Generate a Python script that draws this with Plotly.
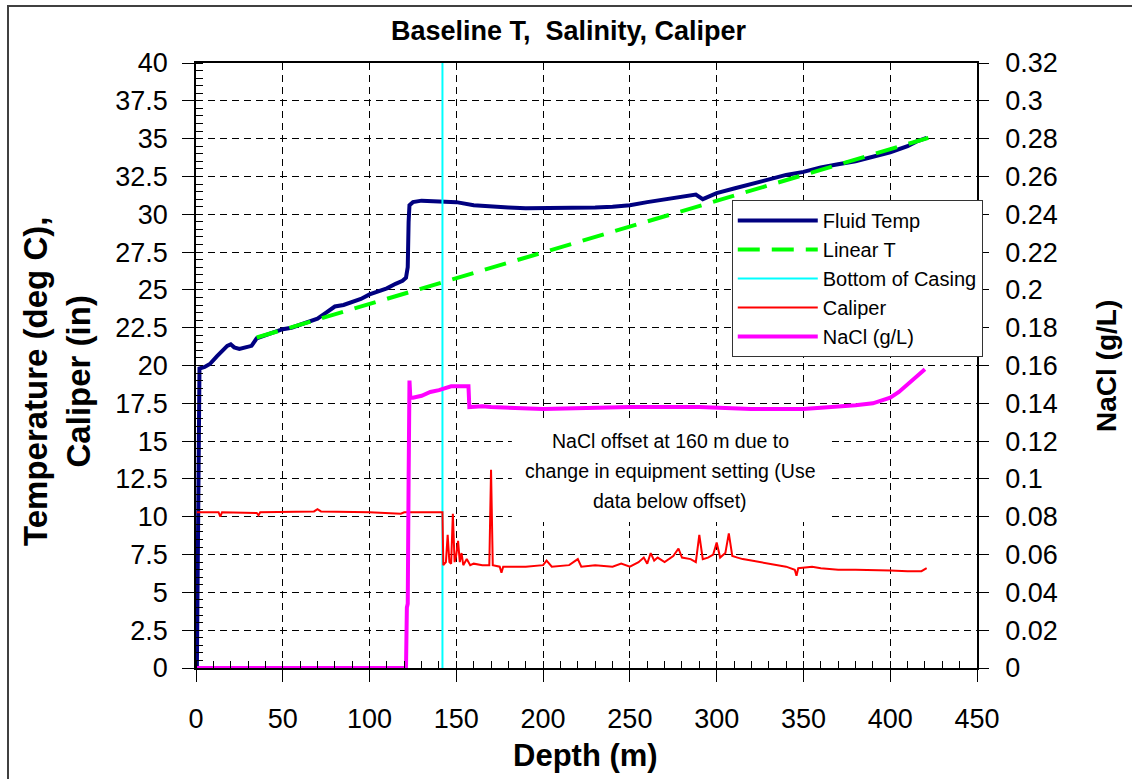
import plotly.graph_objects as go

# ---------------- data ----------------
temp_depth = [0.5, 1.5, 2, 5, 8, 12, 15, 18, 20, 22, 25, 28, 32, 35, 40, 45, 50, 55, 60, 65, 70,
              75, 80, 85, 90, 95, 100, 105, 110, 115, 119, 121, 122, 122.5, 123, 125, 130, 140,
              150, 160, 170, 180, 190, 200, 210, 220, 230, 240, 250, 260, 270, 280, 288, 292,
              296, 300, 310, 320, 330, 340, 350, 360, 370, 380, 390, 400, 410, 415, 421]
temp_vals = [0, 19.6, 19.8, 19.9, 20.1, 20.6, 21.0, 21.3, 21.4, 21.2, 21.1, 21.2, 21.3, 21.8, 22.0,
             22.2, 22.4, 22.5, 22.7, 22.9, 23.1, 23.5, 23.9, 24.0, 24.2, 24.4, 24.7, 24.9, 25.1,
             25.4, 25.6, 25.8, 26.5, 29.5, 30.6, 30.8, 30.9, 30.85, 30.8, 30.6, 30.5, 30.45, 30.4,
             30.4, 30.4, 30.4, 30.45, 30.5, 30.6, 30.8, 31.0, 31.2, 31.3, 31.0, 31.2, 31.4, 31.7,
             32.0, 32.3, 32.6, 32.8, 33.1, 33.3, 33.5, 33.8, 34.1, 34.5, 34.8, 35.05]

linear_depth = [35, 422]
linear_vals = [21.85, 35.05]

casing_depth = [142, 142]
casing_vals = [0, 40]

caliper_depth = [0.5, 13, 14, 15, 35, 36, 37, 50, 68, 70, 72, 100, 114, 118, 120, 142, 142.5, 144,
                 145, 146, 147, 148, 149, 150, 151, 152, 153, 154, 156, 158, 160, 165, 169, 170,
                 171, 175, 176, 177, 190, 200, 202, 205, 215, 220, 222, 230, 240, 245, 250, 255,
                 258, 260, 262, 264, 266, 270, 275, 278, 280, 285, 288, 290, 292, 295, 298, 300,
                 302, 305, 307, 309, 312, 315, 320, 325, 330, 335, 340, 345, 346, 347, 355, 360,
                 370, 380, 390, 400, 410, 418, 421]
caliper_vals = [10.3, 10.3, 10.0, 10.3, 10.25, 10.1, 10.3, 10.3, 10.35, 10.5, 10.35, 10.3, 10.25,
                10.2, 10.3, 10.3, 6.8, 7.0, 8.8, 7.0, 6.9, 10.2, 7.0, 7.5, 8.4, 7.0, 7.6, 6.8,
                7.2, 6.8, 6.9, 6.8, 6.8, 13.1, 6.8, 6.7, 6.3, 6.7, 6.7, 6.8, 7.1, 6.7, 6.8, 7.2,
                6.7, 6.8, 6.7, 6.9, 6.7, 7.0, 7.3, 6.9, 7.6, 7.1, 7.3, 7.0, 7.4, 7.9, 7.3, 7.2,
                7.0, 8.8, 7.2, 7.3, 7.5, 8.3, 7.3, 7.6, 8.9, 7.4, 7.3, 7.2, 7.1, 7.0, 6.9, 6.8,
                6.7, 6.5, 6.1, 6.6, 6.7, 6.6, 6.5, 6.5, 6.5, 6.45, 6.4, 6.4, 6.6]

nacl_depth = [0.5, 121, 121.5, 122, 122.5, 123, 123.5, 125, 130, 135, 140, 143, 147, 157, 157.5,
              165, 170, 200, 250, 290, 300, 320, 350, 370, 380, 390, 400, 405, 410, 415, 420]
nacl_vals = [0, 0, 0.032, 0.034, 0.10, 0.152, 0.143, 0.143, 0.144, 0.146, 0.147, 0.148, 0.149,
             0.149, 0.138, 0.1385, 0.138, 0.137, 0.138, 0.138, 0.1375, 0.137, 0.137, 0.138,
             0.139, 0.14, 0.143, 0.146, 0.15, 0.154, 0.158]

note_lines = ["NaCl offset at 160 m due to", "change in equipment setting (Use", "data below offset)"]

FONT = "Liberation Sans, Arial, sans-serif"

fig = go.Figure()
fig.add_trace(go.Scatter(x=temp_depth, y=temp_vals, name="Fluid Temp", mode="lines",
                         line=dict(color="#000080", width=4)))
fig.add_trace(go.Scatter(x=linear_depth, y=linear_vals, name="Linear T", mode="lines",
                         line=dict(color="#00FF00", width=4, dash="22px,12px")))
fig.add_trace(go.Scatter(x=casing_depth, y=casing_vals, name="Bottom of Casing", mode="lines",
                         line=dict(color="#00FFFF", width=2)))
fig.add_trace(go.Scatter(x=caliper_depth, y=caliper_vals, name="Caliper", mode="lines",
                         line=dict(color="#FF0000", width=2)))
fig.add_trace(go.Scatter(x=nacl_depth, y=nacl_vals, name="NaCl (g/L)", mode="lines",
                         yaxis="y2", line=dict(color="#FF00FF", width=4)))

grid = dict(showgrid=True, gridcolor="black", gridwidth=1, griddash="7px,5px")

fig.update_layout(
    width=1132, height=779,
    margin=dict(l=196, r=155, t=63, b=111),
    paper_bgcolor="white", plot_bgcolor="white",
    font=dict(family=FONT, color="black"),
    showlegend=True,
    legend=dict(x=0.686, y=0.7736, xanchor="left", yanchor="top",
                bgcolor="white", bordercolor="#333333", borderwidth=1,
                font=dict(size=20, family=FONT), tracegroupgap=0, itemwidth=80),
    xaxis=dict(range=[0, 450], dtick=50, tick0=0, ticks="outside", ticklen=12,
               tickcolor="black", showline=True, linecolor="black", linewidth=1.5,
               mirror=True, zeroline=False, tickfont=dict(size=27, family=FONT),
               ticklabelstandoff=14,
               minor=dict(dtick=10, ticks="inside", ticklen=7, tickcolor="black", showgrid=False),
               **grid),
    yaxis=dict(range=[0, 40], dtick=2.5, tick0=0, ticks="outside", ticklen=12,
               tickcolor="black", showline=True, linecolor="black", linewidth=1.5,
               zeroline=False, tickfont=dict(size=27, family=FONT), ticklabelstandoff=9,
               minor=dict(dtick=0.5, ticks="inside", ticklen=7, tickcolor="black", showgrid=False),
               **grid),
    yaxis2=dict(range=[0, 0.32], dtick=0.02, tick0=0, overlaying="y", side="right",
                ticks="outside", ticklen=10, tickcolor="black", showline=True,
                linecolor="black", linewidth=1.5, showgrid=False, zeroline=False,
                tickfont=dict(size=27, family=FONT), ticklabelstandoff=11),
)

fig.add_annotation(text="<b>Baseline T,  Salinity, Caliper</b>", xref="paper", yref="paper",
                   x=(569 - 196) / 781, y=(668 - 31) / 605, showarrow=False,
                   font=dict(size=27, family=FONT), xanchor="center", yanchor="middle")
fig.add_annotation(text="<b>Temperature (deg C),<br>Caliper (in)</b>", xref="paper", yref="paper",
                   x=(57 - 196) / 781, y=(668 - 382) / 605, showarrow=False, textangle=-90,
                   font=dict(size=33, family=FONT), xanchor="center", yanchor="middle")
fig.add_annotation(text="<b>NaCl (g/L)</b>", xref="paper", yref="paper",
                   x=(1106 - 196) / 781, y=(668 - 366) / 605, showarrow=False, textangle=-90,
                   font=dict(size=28, family=FONT), xanchor="center", yanchor="middle")
fig.add_annotation(text="<b>Depth (m)</b>", xref="paper", yref="paper",
                   x=(585 - 196) / 781, y=(668 - 755) / 605, showarrow=False,
                   font=dict(size=31, family=FONT), xanchor="center", yanchor="middle")

# white box behind the note (covers gridlines, stays below traces)
fig.add_shape(type="rect", xref="x", yref="y",
              x0=182, x1=364, y0=9.65, y1=16.4,
              line=dict(width=0), fillcolor="white", layer="between")
for i, line in enumerate(note_lines):
    fig.add_annotation(text=line, xref="paper", yref="paper",
                       x=(670 - 196) / 781, y=(668 - (441 + 30 * i)) / 605,
                       showarrow=False, font=dict(size=19.5, family=FONT),
                       xanchor="center", yanchor="middle")

fig.add_shape(type="rect", xref="paper", yref="paper",
              x0=(8 - 196) / 781, x1=(1250 - 196) / 781,
              y0=(668 - 850) / 605, y1=(668 - 6) / 605,
              line=dict(color="#404040", width=2), fillcolor="rgba(0,0,0,0)", layer="below")

fig.write_html("out.html")
